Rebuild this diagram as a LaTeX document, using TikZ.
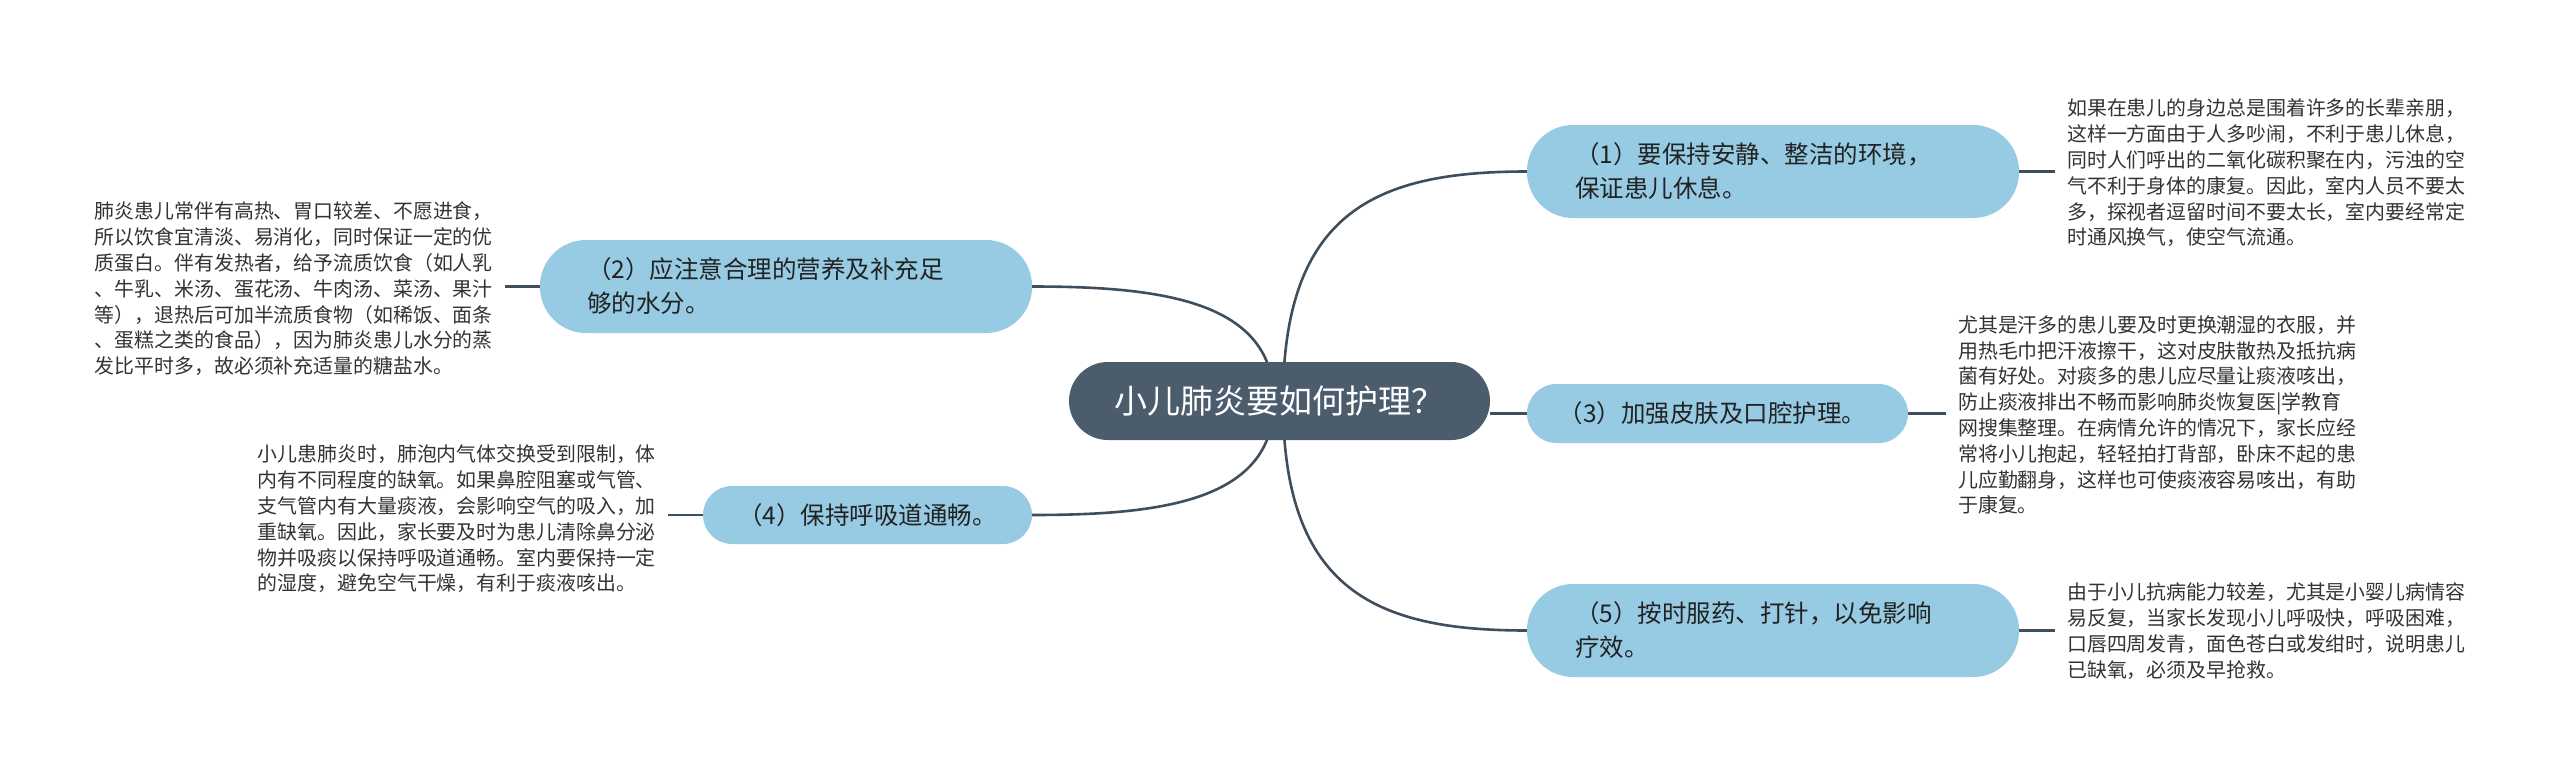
\documentclass[tikz,border=0pt]{standalone}
\usepackage{fontspec}
\setmainfont{Noto Sans CJK SC}
\usetikzlibrary{backgrounds}
\definecolor{cdark}{HTML}{4B5D6D}
\definecolor{cblue}{HTML}{96CBE3}
\definecolor{cline}{HTML}{3F4E5C}
\definecolor{ctext}{HTML}{222222}
\definecolor{cleaf}{HTML}{333333}
\tikzset{
  centralbox/.style={rectangle, fill=cdark, text=white, rounded corners=39pt,
    minimum width=421pt, minimum height=78pt, inner sep=0pt,
    font=\fontsize{33pt}{40pt}\selectfont},
  branchbox/.style={rectangle, fill=cblue, text=ctext, rounded corners=46pt,
    minimum height=93pt, inner ysep=0pt,
    font=\fontsize{24.5pt}{34pt}\selectfont},
  smallbranch/.style={rectangle, fill=cblue, text=ctext, rounded corners=29pt,
    minimum height=58pt, inner sep=0pt,
    font=\fontsize{24.5pt}{34pt}\selectfont},
  leafbox/.style={inner xsep=12pt, inner ysep=0pt, align=left, text=cleaf,
    font=\fontsize{19.9pt}{25.8pt}\selectfont},
  conn/.style={draw=cline, line width=2.6pt}
}
\begin{document}
\begin{tikzpicture}[x=1pt,y=-1pt]
\useasboundingbox (0,0) rectangle (2560,777);
% central
\node[centralbox] (c) at (1279.5,401) {小儿肺炎要如何护理？};
% branches
\node[branchbox, text width=396pt, inner xsep=48pt, align=left] (b1) at (1773,171.5)
  {（1）要保持安静、整洁的环境，\\保证患儿休息。};
\node[branchbox, text width=398pt, inner xsep=47pt, align=left] (b2) at (786,286.5)
  {（2）应注意合理的营养及补充足\\够的水分。};
\node[smallbranch, minimum width=381pt, minimum height=59pt, rounded corners=29.5pt, text width=318pt, align=left] (b3) at (1717.5,413.5)
  {（3）加强皮肤及口腔护理。};
\node[smallbranch, minimum width=329pt] (b4) at (867.5,515)
  {（4）保持呼吸道通畅。};
\node[branchbox, text width=396pt, inner xsep=48pt, align=left] (b5) at (1773,630.5)
  {（5）按时服药、打针，以免影响\\疗效。};
% leaves
\node[leafbox, anchor=west] (l1) at (2055,173)
  {如果在患儿的身边总是围着许多的长辈亲朋，\\这样一方面由于人多吵闹，不利于患儿休息，\\同时人们呼出的二氧化碳积聚在内，污浊的空\\气不利于身体的康复。因此，室内人员不要太\\多，探视者逗留时间不要太长，室内要经常定\\时通风换气，使空气流通。};
\node[leafbox, anchor=east] (l2) at (505,289)
  {肺炎患儿常伴有高热、胃口较差、不愿进食，\\所以饮食宜清淡、易消化，同时保证一定的优\\质蛋白。伴有发热者，给予流质饮食（如人乳\\、牛乳、米汤、蛋花汤、牛肉汤、菜汤、果汁\\等），退热后可加半流质食物（如稀饭、面条\\、蛋糕之类的食品），因为肺炎患儿水分的蒸\\发比平时多，故必须补充适量的糖盐水。};
\node[leafbox, anchor=west] (l3) at (1946,415)
  {尤其是汗多的患儿要及时更换潮湿的衣服，并\\用热毛巾把汗液擦干，这对皮肤散热及抵抗病\\菌有好处。对痰多的患儿应尽量让痰液咳出，\\防止痰液排出不畅而影响肺炎恢复医|学教育\\网搜集整理。在病情允许的情况下，家长应经\\常将小儿抱起，轻轻拍打背部，卧床不起的患\\儿应勤翻身，这样也可使痰液容易咳出，有助\\于康复。};
\node[leafbox, anchor=east] (l4) at (668,519)
  {小儿患肺炎时，肺泡内气体交换受到限制，体\\内有不同程度的缺氧。如果鼻腔阻塞或气管、\\支气管内有大量痰液，会影响空气的吸入，加\\重缺氧。因此，家长要及时为患儿清除鼻分泌\\物并吸痰以保持呼吸道通畅。室内要保持一定\\的湿度，避免空气干燥，有利于痰液咳出。};
\node[leafbox, anchor=west] (l5) at (2055,631)
  {由于小儿抗病能力较差，尤其是小婴儿病情容\\易反复，当家长发现小儿呼吸快，呼吸困难，\\口唇四周发青，面色苍白或发绀时，说明患儿\\已缺氧，必须及早抢救。};
% connector anchors hidden behind the central node
\coordinate (cr) at (1283,401);
\coordinate (cl) at (1274,401);
\begin{scope}[on background layer]
\fill[white] (0,0) rectangle (2560,777);
\draw[conn] (cr) .. controls +(0,-190) and +(-150,0) .. (b1.west);
\draw[conn] (cr) .. controls +(0,190) and +(-150,0) .. (b5.west);
\draw[conn] (c.east |- b3.west) -- (b3.west);
\draw[conn] (cl) .. controls +(0,-100) and +(130,0) .. (b2.east);
\draw[conn] (cl) .. controls +(0,100) and +(130,0) .. (b4.east);
\draw[conn] (b1.east) -- (b1.east -| l1.west);
\draw[conn] (b3.east) -- (b3.east -| l3.west);
\draw[conn] (b5.east) -- (b5.east -| l5.west);
\draw[conn] (b2.west) -- (b2.west -| l2.east);
\draw[conn] (b4.west) -- (b4.west -| l4.east);
\end{scope}
\end{tikzpicture}
\end{document}
